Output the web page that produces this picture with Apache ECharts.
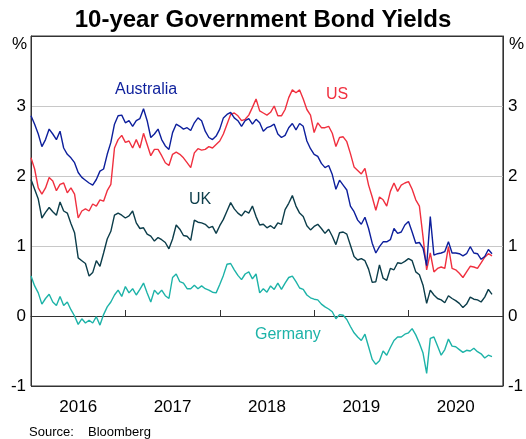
<!DOCTYPE html>
<html>
<head>
<meta charset="utf-8">
<script src="https://cdn.jsdelivr.net/npm/echarts@6/dist/echarts.min.js"></script>
<style>
html, body { margin: 0; padding: 0; background: #fff; }
#chart { width: 526px; height: 439px; }
</style>
</head>
<body>
<div id="chart"></div>
<script>
// fortnightly readings from Jan 2016, per cent
const yearLabels = ['2016', '2017', '2018', '2019', '2020']
const yTicks = [-1, 0, 1, 2, 3, 4]

const australia = [
  2.86, 2.74, 2.60, 2.42, 2.52, 2.67, 2.60, 2.52, 2.64, 2.40, 2.31, 2.26, 2.19, 2.05, 1.98,
  1.94, 1.90, 1.87, 1.95, 2.07, 2.10, 2.31, 2.48, 2.74, 2.86, 2.87, 2.76, 2.79, 2.71, 2.79,
  2.82, 2.96, 2.79, 2.55, 2.60, 2.67, 2.52, 2.43, 2.38, 2.62, 2.74, 2.71, 2.67, 2.69, 2.65,
  2.76, 2.83, 2.79, 2.64, 2.55, 2.52, 2.57, 2.67, 2.83, 2.88, 2.91, 2.83, 2.79, 2.71, 2.79,
  2.82, 2.74, 2.81, 2.76, 2.64, 2.69, 2.71, 2.74, 2.60, 2.55, 2.58, 2.69, 2.75, 2.66, 2.75,
  2.71, 2.50, 2.39, 2.31, 2.28, 2.18, 2.12, 2.15, 2.02, 1.81, 1.94, 1.87, 1.80,
  1.57, 1.49, 1.37, 1.31, 1.41, 1.25, 1.04, 0.90, 0.99, 1.06, 1.06, 1.09, 1.25, 1.18, 1.20,
  1.30, 1.35, 1.20, 1.04, 1.05, 0.97, 0.72, 1.42, 0.87, 0.89, 0.90, 0.92, 1.06, 0.90, 0.90,
  0.89, 0.86, 0.89, 0.99, 0.90, 0.89, 0.81, 0.85, 0.95, 0.89
]
const us = [
  2.26, 2.10, 1.83, 1.74, 1.83, 1.98, 1.93, 1.79, 1.88, 1.90, 1.76, 1.83, 1.74, 1.40, 1.50,
  1.53, 1.50, 1.60, 1.57, 1.66, 1.64, 1.79, 1.88, 2.40, 2.52, 2.58, 2.48, 2.50, 2.40, 2.52,
  2.40, 2.61, 2.45, 2.29, 2.38, 2.38, 2.29, 2.19, 2.15, 2.31, 2.34, 2.31, 2.26, 2.19, 2.12,
  2.33, 2.39, 2.37, 2.38, 2.42, 2.40, 2.45, 2.50, 2.60, 2.74, 2.88, 2.90, 2.86, 2.79, 2.81,
  2.87, 2.98, 3.10, 2.93, 2.90, 2.87, 2.91, 3.00, 2.86, 2.86, 2.95, 3.12, 3.23, 3.19, 3.23,
  3.10, 2.95, 2.87, 2.62, 2.76, 2.69, 2.69, 2.71, 2.61, 2.42, 2.55, 2.56, 2.49,
  2.32, 2.13, 2.08, 2.03, 2.11, 1.87, 1.70, 1.51, 1.70, 1.66, 1.57, 1.78, 1.90, 1.78, 1.87,
  1.90, 1.92, 1.81, 1.66, 1.57, 1.13, 0.66, 0.90, 0.63, 0.68, 0.70, 0.68, 0.99, 0.68, 0.66,
  0.61, 0.55, 0.63, 0.71, 0.70, 0.68, 0.76, 0.84, 0.89, 0.86
]
const uk = [
  1.95, 1.81, 1.67, 1.40, 1.48, 1.55, 1.49, 1.44, 1.63, 1.50, 1.47, 1.32, 1.19, 0.83, 0.79,
  0.75, 0.57, 0.62, 0.79, 0.71, 0.90, 1.10, 1.21, 1.44, 1.47, 1.44, 1.40, 1.43, 1.50, 1.33,
  1.25, 1.26, 1.17, 1.14, 1.07, 1.12, 1.09, 1.05, 0.96, 1.10, 1.30, 1.24, 1.15, 1.14, 1.08,
  1.37, 1.34, 1.33, 1.31, 1.26, 1.28, 1.18, 1.29, 1.38, 1.50, 1.62, 1.53, 1.47, 1.43, 1.50,
  1.47, 1.57, 1.42, 1.30, 1.31, 1.26, 1.29, 1.25, 1.33, 1.31, 1.52, 1.61, 1.72, 1.57, 1.47,
  1.42, 1.29, 1.23, 1.28, 1.31, 1.25, 1.18, 1.24, 1.14, 1.02, 1.19, 1.20, 1.17,
  1.01, 0.85, 0.80, 0.82, 0.79, 0.67, 0.48, 0.49, 0.73, 0.54, 0.51, 0.68, 0.66, 0.76, 0.75,
  0.78, 0.82, 0.79, 0.63, 0.59, 0.44, 0.18, 0.37, 0.30, 0.25, 0.23, 0.19, 0.29, 0.25, 0.22,
  0.18, 0.12, 0.17, 0.27, 0.24, 0.23, 0.20, 0.27, 0.38, 0.31
]
const germany = [
  0.57, 0.43, 0.33, 0.17, 0.25, 0.31, 0.20, 0.15, 0.28, 0.15, 0.20, 0.09, 0.00, -0.12, -0.04,
  -0.10, -0.06, -0.10, -0.01, -0.13, 0.02, 0.13, 0.20, 0.30, 0.37, 0.28, 0.42, 0.33, 0.39, 0.30,
  0.38, 0.47, 0.33, 0.20, 0.37, 0.31, 0.37, 0.29, 0.25, 0.55, 0.60, 0.49, 0.47, 0.39, 0.39,
  0.44, 0.39, 0.43, 0.39, 0.37, 0.34, 0.33, 0.45, 0.58, 0.74, 0.75, 0.66, 0.58, 0.52, 0.60,
  0.63, 0.53, 0.60, 0.33, 0.39, 0.34, 0.43, 0.38, 0.47, 0.38, 0.47, 0.55, 0.57, 0.49, 0.40,
  0.38, 0.30, 0.26, 0.24, 0.23, 0.17, 0.13, 0.10, 0.06, -0.04, 0.02, 0.01, -0.05,
  -0.15, -0.24, -0.30, -0.35, -0.26, -0.44, -0.62, -0.69, -0.64, -0.50, -0.56, -0.45, -0.35, -0.30, -0.30,
  -0.26, -0.24, -0.18, -0.27, -0.39, -0.53, -0.82, -0.32, -0.30, -0.43, -0.56, -0.48, -0.33, -0.43, -0.44,
  -0.48, -0.52, -0.49, -0.50, -0.46, -0.51, -0.54, -0.60, -0.56, -0.58
]

// x position in years, one reading every two weeks
const dates = australia.map((_, i) => 2016 + i / 26)
const pairs = arr => arr.map((v, i) => [dates[i], v])

const font = '"Liberation Sans", Arial, sans-serif'
const colors = {
  australia: '#0d1f9c',
  us: '#f0303f',
  uk: '#0c3d4a',
  germany: '#1db3a8'
}

const chart = echarts.init(document.getElementById('chart'))

const yLabel = {
  fontSize: 17,
  color: '#000',
  fontFamily: font,
  margin: 5,
  formatter: v => (v === 4 ? '' : String(v))
}

const option = {
  animation: false,
  textStyle: { fontFamily: font },
  title: {
    text: '10-year Government Bond Yields',
    left: 'center',
    top: 3,
    textStyle: { fontSize: 24, fontWeight: 'bold', color: '#000', fontFamily: font }
  },
  grid: {
    left: 31,
    right: 19,
    top: 36,
    bottom: 53,
    show: true,
    borderColor: '#333',
    borderWidth: 1
  },
  xAxis: [
    {
      type: 'value',
      min: 2016,
      max: 2021,
      interval: 1,
      position: 'bottom',
      axisLine: { show: true, lineStyle: { color: '#333', width: 1 } },
      axisTick: { show: true, inside: true, length: 6, lineStyle: { color: '#333' } },
      axisLabel: { show: false },
      splitLine: { show: false }
    },
    {
      type: 'category',
      data: yearLabels,
      position: 'bottom',
      boundaryGap: true,
      axisLine: { show: false },
      axisTick: { show: false },
      axisLabel: { fontSize: 17, color: '#000', fontFamily: font, margin: 13 },
      splitLine: { show: false }
    }
  ],
  yAxis: [
    {
      type: 'value',
      min: yTicks[0],
      max: yTicks[yTicks.length - 1],
      interval: 1,
      position: 'left',
      axisLine: { show: true, lineStyle: { color: '#333' } },
      axisTick: { show: false },
      axisLabel: yLabel,
      splitLine: {
        show: true,
        lineStyle: {
          color: ['#333', '#000', '#c8c8c8', '#c8c8c8', '#c8c8c8', '#333'],
          width: 1
        }
      }
    },
    {
      type: 'value',
      min: yTicks[0],
      max: yTicks[yTicks.length - 1],
      interval: 1,
      position: 'right',
      axisLine: { show: true, lineStyle: { color: '#333' } },
      axisTick: { show: false },
      axisLabel: yLabel,
      splitLine: { show: false }
    }
  ],
  graphic: [
    { type: 'text', left: 12, top: 36, style: { text: '%', fontSize: 17, fill: '#000', fontFamily: font } },
    { type: 'text', left: 509, top: 36, style: { text: '%', fontSize: 17, fill: '#000', fontFamily: font } },
    { type: 'text', left: 115, top: 82, style: { text: 'Australia', fontSize: 16, fill: colors.australia, fontFamily: font } },
    { type: 'text', left: 326, top: 87, style: { text: 'US', fontSize: 16, fill: colors.us, fontFamily: font } },
    { type: 'text', left: 189, top: 192, style: { text: 'UK', fontSize: 16, fill: colors.uk, fontFamily: font } },
    { type: 'text', left: 255, top: 327, style: { text: 'Germany', fontSize: 16, fill: colors.germany, fontFamily: font } },
    { type: 'text', left: 29, top: 426, style: { text: 'Source:', fontSize: 13, fill: '#000', fontFamily: font } },
    { type: 'text', left: 88, top: 426, style: { text: 'Bloomberg', fontSize: 13, fill: '#000', fontFamily: font } }
  ],
  series: [
    { name: 'Germany', data: pairs(germany), color: colors.germany },
    { name: 'UK', data: pairs(uk), color: colors.uk },
    { name: 'US', data: pairs(us), color: colors.us },
    { name: 'Australia', data: pairs(australia), color: colors.australia }
  ].map(s => ({
    ...s,
    type: 'line',
    xAxisIndex: 0,
    yAxisIndex: 0,
    showSymbol: false,
    lineStyle: { width: 1.4, color: s.color }
  }))
}

chart.setOption(option)
</script>
</body>
</html>
